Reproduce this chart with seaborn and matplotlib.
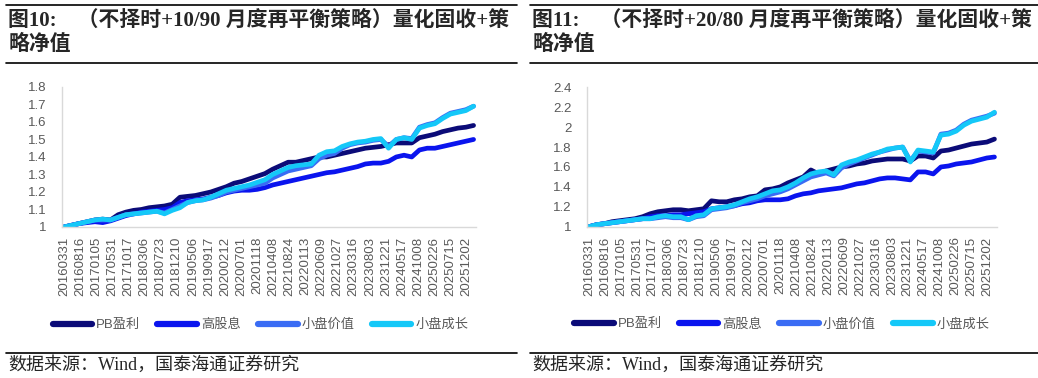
import numpy as np
import pandas as pd
import matplotlib
matplotlib.use("Agg")
import matplotlib.pyplot as plt
from matplotlib.lines import Line2D
from matplotlib.ticker import FormatStrFormatter
import seaborn as sns

sns.set_style("white")
plt.rcParams["font.family"] = ["Liberation Sans", "Noto Sans CJK SC", "DejaVu Sans"]

# tick dates on the x axis (one label per tick)
dates = ["20160331", "20160816", "20170105", "20170531", "20171017", "20180306",
         "20180723", "20181210", "20190506", "20190917", "20200212", "20200701",
         "20201118", "20210408", "20210824", "20220113", "20220609", "20221027",
         "20230316", "20230803", "20231221", "20240517", "20241008", "20250226",
         "20250715", "20251202"]
# sample positions, in units of tick intervals (2016-03 .. 2026-01)
t = np.arange(54) * 0.48

names = ["PB盈利", "高股息", "小盘价值", "小盘成长"]
colors = ["#0b0b78", "#0a14ee", "#3a6cf4", "#14c8f8"]

# figure 10: 10/90
pb_10 = [1.00, 1.01, 1.02, 1.03, 1.04, 1.045, 1.04, 1.07, 1.085, 1.095, 1.10, 1.11, 1.115, 1.12,
         1.13, 1.17, 1.175, 1.18, 1.19, 1.20, 1.215, 1.23, 1.25, 1.26, 1.275, 1.29, 1.305, 1.33,
         1.35, 1.37, 1.37, 1.38, 1.39, 1.40, 1.40, 1.41, 1.42, 1.43, 1.44, 1.45, 1.455, 1.46,
         1.47, 1.48, 1.48, 1.48, 1.51, 1.52, 1.53, 1.545, 1.555, 1.565, 1.57, 1.58]
div_10 = [1.00, 1.01, 1.02, 1.025, 1.03, 1.025, 1.035, 1.05, 1.065, 1.075, 1.085, 1.09, 1.095, 1.10,
          1.11, 1.14, 1.15, 1.155, 1.16, 1.17, 1.18, 1.195, 1.205, 1.21, 1.21, 1.215, 1.225, 1.24,
          1.25, 1.26, 1.27, 1.28, 1.29, 1.30, 1.31, 1.315, 1.325, 1.335, 1.345, 1.36, 1.365, 1.365,
          1.375, 1.40, 1.41, 1.40, 1.44, 1.45, 1.45, 1.46, 1.47, 1.48, 1.49, 1.50]
sv_10 = [1.00, 1.01, 1.02, 1.03, 1.04, 1.04, 1.04, 1.055, 1.07, 1.075, 1.08, 1.085, 1.09, 1.08,
         1.10, 1.12, 1.14, 1.15, 1.155, 1.165, 1.18, 1.20, 1.21, 1.22, 1.23, 1.24, 1.25, 1.28,
         1.30, 1.32, 1.33, 1.34, 1.35, 1.39, 1.41, 1.42, 1.45, 1.47, 1.48, 1.485, 1.495, 1.50,
         1.46, 1.50, 1.51, 1.505, 1.57, 1.585, 1.595, 1.625, 1.65, 1.66, 1.67, 1.69]
sg_10 = [1.00, 1.01, 1.02, 1.03, 1.04, 1.045, 1.04, 1.055, 1.07, 1.075, 1.08, 1.085, 1.09, 1.075,
         1.095, 1.11, 1.14, 1.15, 1.155, 1.17, 1.19, 1.21, 1.22, 1.23, 1.24, 1.255, 1.27, 1.30,
         1.32, 1.34, 1.35, 1.355, 1.36, 1.41, 1.43, 1.435, 1.46, 1.475, 1.485, 1.49, 1.50, 1.505,
         1.45, 1.50, 1.51, 1.50, 1.565, 1.58, 1.59, 1.62, 1.645, 1.655, 1.665, 1.69]

# figure 11: 20/80
pb_20 = [1.00, 1.02, 1.03, 1.05, 1.06, 1.07, 1.08, 1.10, 1.13, 1.15, 1.16, 1.17, 1.17, 1.16,
         1.17, 1.18, 1.26, 1.25, 1.25, 1.27, 1.28, 1.30, 1.31, 1.37, 1.38, 1.40, 1.44, 1.47,
         1.50, 1.57, 1.53, 1.56, 1.58, 1.60, 1.61, 1.63, 1.64, 1.66, 1.67, 1.68, 1.68, 1.68,
         1.66, 1.71, 1.71, 1.69, 1.76, 1.77, 1.79, 1.81, 1.83, 1.84, 1.85, 1.88]
div_20 = [1.00, 1.02, 1.03, 1.04, 1.05, 1.06, 1.07, 1.08, 1.10, 1.11, 1.11, 1.12, 1.12, 1.13,
          1.14, 1.15, 1.18, 1.19, 1.20, 1.21, 1.23, 1.24, 1.26, 1.27, 1.27, 1.27, 1.28, 1.31,
          1.33, 1.34, 1.36, 1.37, 1.38, 1.39, 1.41, 1.43, 1.44, 1.46, 1.48, 1.49, 1.49, 1.48,
          1.47, 1.55, 1.55, 1.53, 1.60, 1.61, 1.63, 1.64, 1.65, 1.67, 1.69, 1.70]
sv_20 = [1.00, 1.02, 1.03, 1.04, 1.05, 1.06, 1.07, 1.08, 1.08, 1.09, 1.10, 1.09, 1.09, 1.07,
         1.10, 1.11, 1.17, 1.18, 1.19, 1.21, 1.24, 1.26, 1.28, 1.31, 1.33, 1.35, 1.38, 1.42,
         1.46, 1.50, 1.52, 1.54, 1.51, 1.59, 1.63, 1.66, 1.69, 1.72, 1.75, 1.77, 1.79, 1.80,
         1.66, 1.76, 1.75, 1.74, 1.93, 1.94, 1.97, 2.03, 2.07, 2.09, 2.11, 2.14]
sg_20 = [1.00, 1.02, 1.03, 1.04, 1.05, 1.06, 1.07, 1.08, 1.08, 1.10, 1.11, 1.10, 1.10, 1.07,
         1.11, 1.12, 1.18, 1.19, 1.20, 1.22, 1.25, 1.28, 1.30, 1.33, 1.36, 1.37, 1.40, 1.44,
         1.49, 1.53, 1.55, 1.56, 1.52, 1.62, 1.65, 1.67, 1.70, 1.73, 1.75, 1.78, 1.79, 1.80,
         1.65, 1.77, 1.76, 1.75, 1.92, 1.93, 1.96, 2.02, 2.06, 2.08, 2.10, 2.15]

panels = [
    ("图10:    （不择时+10/90 月度再平衡策略）量化固收+策\n略净值", [pb_10, div_10, sv_10, sg_10],
     (1.0, 1.8), np.arange(1.0, 1.81, 0.1), [0.0597, 0.3995, 0.399, 0.3705], 0.008, 0.479),
    ("图11:    （不择时+20/80 月度再平衡策略）量化固收+策\n略净值", [pb_20, div_20, sv_20, sg_20],
     (1.0, 2.4), np.arange(1.0, 2.41, 0.2), [0.5655, 0.4003, 0.395, 0.3687], 0.513, 0.475),
]

fig = plt.figure(figsize=(10.38, 3.78), dpi=100)
gray = "#595959"

for title, series, ylim, yticks, pos, tx, lx in panels:
    ax = fig.add_axes(pos)
    df = pd.concat([pd.DataFrame({"t": t, "v": s, "name": n}) for n, s in zip(names, series)])
    sns.lineplot(data=df, x="t", y="v", hue="name", palette=colors, hue_order=names,
                 linewidth=3.4, ax=ax, legend=False)
    ax.set_xlim(-0.13, 25.6)
    ax.set_ylim(*ylim)
    ax.set_yticks(yticks)
    ax.yaxis.set_major_formatter(FormatStrFormatter("%g"))
    ax.set_xticks(np.arange(len(dates)))
    ax.set_xticklabels(dates, rotation=90)
    ax.tick_params(axis="both", length=0, colors=gray, labelsize=9.5)
    ax.tick_params(axis="y", pad=11)
    ax.tick_params(axis="x", pad=7)
    ax.set_xlabel("")
    ax.set_ylabel("")
    for side in ["top", "right"]:
        ax.spines[side].set_visible(False)
    for side in ["left", "bottom"]:
        ax.spines[side].set_color("#d9d9d9")
        ax.spines[side].set_linewidth(1.0)

    handles = [Line2D([], [], color=c, lw=4.5, solid_capstyle="round") for c in colors]
    leg = ax.legend(handles, names, loc="center", bbox_to_anchor=(lx, -0.7), ncol=4,
                    frameon=False, fontsize=9.5, handlelength=3.0, handletextpad=0.3,
                    columnspacing=1.3)
    for txt in leg.get_texts():
        txt.set_color(gray)

    fig.text(tx, 0.972, title, fontsize=15, fontweight="bold", va="top", ha="left",
             linespacing=1.25, family=["Liberation Serif", "Noto Sans CJK SC"])
    fig.add_artist(Line2D([tx - 0.002, tx + 0.49], [0.988, 0.988], color="black", lw=1.2))
    fig.add_artist(Line2D([tx - 0.002, tx + 0.49], [0.834, 0.834], color="black", lw=1.2))
    fig.add_artist(Line2D([tx - 0.002, tx + 0.49], [0.067, 0.067], color="black", lw=1.2))
    fig.text(tx, 0.034, "数据来源：Wind，国泰海通证券研究", fontsize=13, va="center", ha="left",
             family=["Liberation Serif", "Noto Sans CJK SC"])

fig.savefig("out.png", dpi=100)
